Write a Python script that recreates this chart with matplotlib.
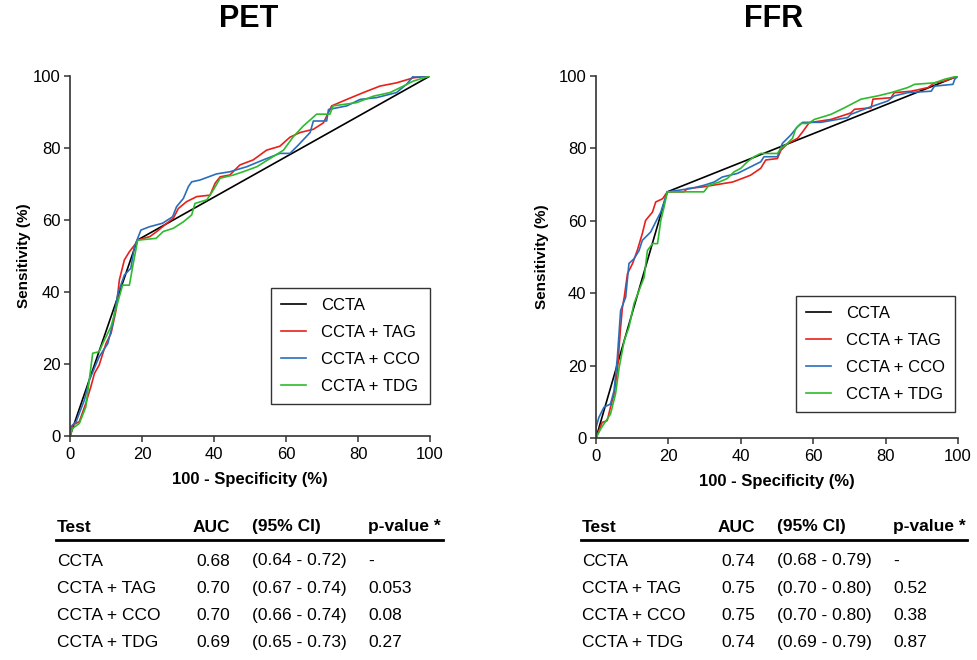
import matplotlib
matplotlib.use('Agg')
import matplotlib.pyplot as plt
from matplotlib.lines import Line2D

plt.rcParams['font.family'] = ['Liberation Sans', 'DejaVu Sans']

# ---- ROC curves (x = 100 - specificity, y = sensitivity) ----
# PET
pet_ccta_x = [0, 18.7, 100]
pet_ccta_y = [0, 54.4, 100]
pet_tag_x = [0, 0.3, 0.7, 2.6, 4.4, 5.8, 6.8, 8.1, 10, 11.4, 12.8, 13.7, 15.1, 16.5, 18.3, 18.7,
             22.2, 24.1, 26.9, 28.7, 30.1, 32.4, 35.2, 38.9, 40.3, 41.7, 44.4, 47.2, 50.9, 54.6,
             58.3, 61.1, 63.9, 67.6, 70.4, 72.7, 76.9, 81.5, 86.1, 90.7, 95.4, 100]
pet_tag_y = [0, 0.7, 3, 4, 9.1, 13.7, 17.4, 19.7, 25.7, 28.5, 35, 43.3, 48.9, 51.2, 53.5, 54.4,
             55.4, 56.8, 59.1, 60.5, 63.2, 65.1, 66.5, 66.9, 70.2, 72, 72.5, 75.3, 76.7, 79.4,
             80.5, 83, 84.3, 85.2, 87, 91.7, 93.5, 95.4, 97.2, 98.1, 99.5, 100]
pet_cco_x = [0, 0.3, 1.7, 4, 5.4, 8.1, 10.5, 11.9, 13.3, 15.1, 16.9, 17.9, 19.7, 22, 25.7, 28.5,
             29.6, 31.5, 32.9, 33.8, 36.1, 40.7, 44.4, 49.1, 53.7, 58.3, 61.1, 63.4, 66.7, 67.6,
             71.3, 71.8, 76.9, 80.6, 85.2, 90.7, 93.5, 95.4, 100]
pet_cco_y = [0, 2.6, 4, 10, 15.6, 22, 25.7, 31.3, 39.6, 44.7, 46.6, 52.6, 57.2, 58.1, 59.1, 60.9,
             63.7, 66, 69.3, 70.6, 71.1, 72.8, 73.4, 74.8, 76.7, 78.5, 78.5, 80.8, 84.3, 87.5,
             87.5, 90.7, 91.7, 93.5, 94, 95.4, 97.7, 100, 100]
pet_tdg_x = [0, 0.7, 2.6, 4.4, 6.3, 8.1, 9.1, 11.4, 13.7, 14.6, 16.5, 17.4, 18.8, 23.9, 25.9,
             28.7, 31.5, 33.8, 34.7, 38, 39.8, 41.7, 45.4, 48.1, 51.9, 55.6, 59.3, 62, 64.8,
             68.5, 72.2, 73.1, 79.6, 84.3, 88.9, 92.6, 95.4, 100]
pet_tdg_y = [0, 2.1, 3.5, 8.1, 23, 23.4, 25.7, 30.4, 38.7, 41.9, 41.9, 47, 54.4, 54.9, 56.8,
             57.7, 59.5, 61.4, 64.6, 65.6, 68.3, 71.6, 72.5, 73.4, 74.8, 77.1, 79.4, 83.1, 86.1,
             89.4, 89.4, 91.7, 92.6, 94.4, 95.4, 97.2, 98.6, 100]

# FFR
ffr_ccta_x = [0, 19.7, 100]
ffr_ccta_y = [0, 68, 100]
ffr_tag_x = [0, 0.8, 1.7, 3.1, 4, 5, 5.9, 6.8, 7.3, 7.8, 8.7, 10.1, 11.4, 12.8, 13.7, 15.6,
             16.5, 18.4, 19.7, 24.3, 25.2, 29.8, 34, 37.7, 40.4, 42.7, 45.5, 46.9, 50.1, 51.1,
             52.9, 55.7, 57.1, 58.9, 64.9, 67.7, 70.4, 71.4, 76, 76.5, 81.5, 82.4, 87.1, 91.7,
             93.5, 96.3, 100]
ffr_tag_y = [0, 2, 4.3, 4.8, 8.5, 12.2, 18.6, 30.6, 36.1, 38.9, 45.4, 48.2, 51.8, 56.5, 60.1,
             62.4, 65.2, 66.1, 68, 68, 68.9, 69.4, 70.1, 70.7, 71.7, 72.6, 74.5, 76.8, 77.2,
             79.5, 81.3, 82.8, 84.6, 87.1, 88, 88.9, 89.8, 90.8, 91.2, 93.6, 94, 95.4, 95.8,
             96.8, 98.1, 98.6, 100]
ffr_cco_x = [0, 0, 0.8, 2.2, 4, 5, 5.9, 6.8, 8.2, 9.1, 10.5, 11.9, 12.8, 15.1, 16.5, 17.9, 18.8,
             19.7, 26.1, 29.8, 32.6, 34.9, 39.1, 40.9, 42.7, 45.5, 46.4, 50.1, 51.5, 52.4, 53.8,
             55.7, 57.1, 62.1, 69.5, 70.4, 75.1, 80.6, 82.4, 86.1, 92.6, 93.5, 98.6, 99.1, 100]
ffr_cco_y = [0, 2.9, 5.7, 8.5, 9.4, 13.1, 22.3, 35.2, 38.9, 48.2, 49.5, 51.8, 54.6, 56.9, 59.7,
             62.4, 65.2, 68, 68.9, 69.8, 70.7, 72.1, 73.1, 74, 74.9, 76.3, 77.7, 77.7, 81.4,
             82.3, 83.7, 86, 87.2, 87.2, 88.5, 89.4, 91.2, 93.1, 94.5, 95.4, 95.8, 97.2, 97.7,
             99.1, 100]
ffr_tdg_x = [0, 1.3, 2.2, 4, 5.4, 6.4, 7.8, 9.1, 10.5, 11.9, 13.3, 14.2, 15.6, 17, 17.9, 18.8,
             19.7, 29.8, 31.2, 34, 36.3, 38.1, 40, 41.8, 43.7, 45.5, 50.1, 51.1, 52.9, 54.3,
             55.2, 56.6, 58.7, 60.3, 64.9, 68.6, 73.2, 77.8, 81.5, 86.1, 88, 93.5, 96.3, 100]
ffr_tdg_y = [0, 2.5, 3.9, 6.6, 12.2, 19.5, 26.9, 30.6, 37.1, 40.8, 44.4, 51.8, 53.7, 53.7, 60.1,
             63.8, 68, 68, 69.8, 70.7, 71.7, 73.5, 74.5, 76.3, 77.7, 78.6, 78.6, 80, 81.4, 82.8,
             85.5, 86.9, 86.9, 88, 89.4, 91.2, 93.6, 94.5, 95.4, 96.8, 97.7, 98.1, 99.1, 100]

# ---- tables ----
table_header = ['Test', 'AUC', '(95% CI)', 'p-value *']
tests = ['CCTA', 'CCTA + TAG', 'CCTA + CCO', 'CCTA + TDG']
pet_auc = ['0.68', '0.70', '0.70', '0.69']
pet_ci = ['(0.64 - 0.72)', '(0.67 - 0.74)', '(0.66 - 0.74)', '(0.65 - 0.73)']
pet_p = ['-', '0.053', '0.08', '0.27']
ffr_auc = ['0.74', '0.75', '0.75', '0.74']
ffr_ci = ['(0.68 - 0.79)', '(0.70 - 0.80)', '(0.70 - 0.80)', '(0.69 - 0.79)']
ffr_p = ['-', '0.52', '0.38', '0.87']

colors = ['black', '#e8201c', '#2a6ebb', '#2dbb2d']
W, H = 978, 660

fig = plt.figure(figsize=(W / 100, H / 100), dpi=100)


def px(x, y):
    return x / W, 1 - y / H


def roc_panel(rect, curves, title, title_x, leg_anchor, ypad):
    ax = fig.add_axes(rect)
    for (xs, ys), c, lab in zip(curves, colors, tests):
        ax.plot(xs, ys, color=c, lw=1.2, label=lab)
    ax.set_xlim(0, 100)
    ax.set_ylim(0, 100)
    ax.set_xticks(range(0, 101, 20))
    ax.set_yticks(range(0, 101, 20))
    for s in ['top', 'right']:
        ax.spines[s].set_visible(False)
    for s in ['left', 'bottom']:
        ax.spines[s].set_linewidth(1.2)
        ax.spines[s].set_color('#333333')
    ax.tick_params(direction='out', length=4, width=1.1, labelsize=12, colors='#333333',
                   labelcolor='black', pad=3)
    ax.tick_params(axis='x', pad=4)
    ax.set_xlabel('100 - Specificity (%)', fontsize=12, fontweight='bold', labelpad=7)
    ax.set_ylabel('Sensitivity (%)', fontsize=11, fontweight='bold', labelpad=ypad)
    leg = ax.legend(loc='lower right', bbox_to_anchor=leg_anchor, borderaxespad=0,
                    fancybox=False, edgecolor='black', fontsize=12, handlelength=1.5,
                    handletextpad=0.9, labelspacing=0.72, borderpad=0.6)
    leg.get_frame().set_linewidth(1.0)
    fig.text(*px(title_x, 19), title, fontsize=22, fontweight='bold', ha='center', va='center')
    return ax


roc_panel([70 / W, 1 - 436 / H, 360 / W, 360 / H],
          [(pet_ccta_x, pet_ccta_y), (pet_tag_x, pet_tag_y),
           (pet_cco_x, pet_cco_y), (pet_tdg_x, pet_tdg_y)],
          'PET', 249, (1.0, 0.089), 1)
roc_panel([596 / W, 1 - 438 / H, 362 / W, 362 / H],
          [(ffr_ccta_x, ffr_ccta_y), (ffr_tag_x, ffr_tag_y),
           (ffr_cco_x, ffr_cco_y), (ffr_tdg_x, ffr_tdg_y)],
          'FFR', 774, (0.992, 0.071), 7)


def draw_table(x0, auc, ci, pv, line_end):
    cols = [x0, x0 + 136, x0 + 195, x0 + 311]
    vcols = [x0, x0 + 139, x0 + 195, x0 + 311]
    for c, h in zip(cols, table_header):
        fig.text(*px(c, 527), h, fontsize=12.5, fontweight='bold', va='center', ha='left')
    fig.add_artist(Line2D([(x0 - 1) / W, line_end / W], [1 - 540 / H] * 2,
                          color='black', lw=2, transform=fig.transFigure))
    for i, row in enumerate(zip(tests, auc, ci, pv)):
        y = 561 + i * 27.3
        for c, v in zip(vcols, row):
            fig.text(*px(c, y), v, fontsize=12.5, va='center', ha='left')


draw_table(57, pet_auc, pet_ci, pet_p, 443)
draw_table(582, ffr_auc, ffr_ci, ffr_p, 967)

fig.savefig('out.png', dpi=100)
